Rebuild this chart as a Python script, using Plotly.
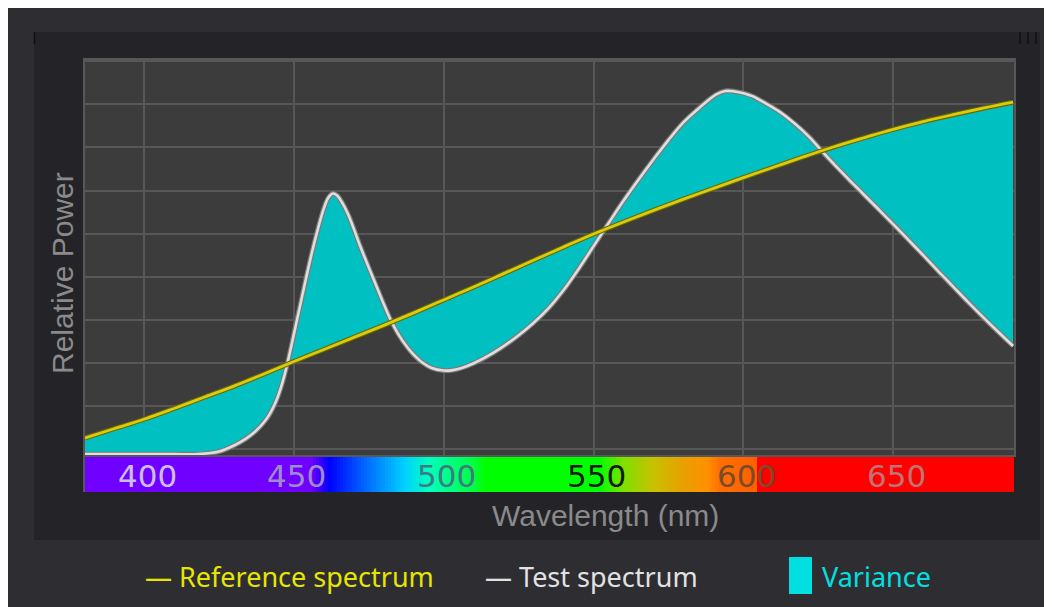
import numpy as np
import plotly.graph_objects as go

# ---------------- data ----------------
ref_nm = [380, 390, 400, 410, 420, 430, 440, 450, 460, 470, 480, 490, 500, 510, 520,
          530, 540, 550, 560, 570, 580, 590, 600, 610, 620, 630, 640, 650, 660, 670,
          680, 690]
ref_power = [0.37, 0.59, 0.81, 1.06, 1.32, 1.58, 1.86, 2.15, 2.43, 2.71, 2.99, 3.28,
             3.58, 3.88, 4.19, 4.50, 4.81, 5.11, 5.39, 5.66, 5.92, 6.17, 6.42, 6.66,
             6.90, 7.13, 7.34, 7.54, 7.72, 7.88, 8.03, 8.17]

test_nm = [380, 390, 400, 410, 418, 425, 430, 434, 437, 440, 442, 444, 446, 448, 450,
           452, 454, 456, 458, 460, 461.5, 463, 464.5, 466, 468, 470, 472, 475, 478,
           480, 482, 485, 488, 490, 493, 496, 500, 503, 506, 510, 514, 519, 525, 530,
           535, 540, 545, 550, 555, 560, 565, 570, 575, 580, 585, 588, 591, 594, 597,
           600, 603, 607, 612, 617, 622, 626, 630, 635, 640, 645, 650, 655, 660, 665,
           670, 675, 680, 685, 690]
test_power = [0, 0, 0, 0, 0, 0.06, 0.20, 0.36, 0.52, 0.74, 0.94, 1.22, 1.62, 2.15,
              2.78, 3.42, 4.06, 4.67, 5.22, 5.70, 5.95, 6.05, 6.00, 5.85, 5.58, 5.23,
              4.85, 4.33, 3.82, 3.48, 3.16, 2.77, 2.47, 2.31, 2.12, 2.00, 1.94, 1.95,
              2.00, 2.11, 2.25, 2.46, 2.76, 3.05, 3.39, 3.81, 4.30, 4.83, 5.36, 5.88,
              6.37, 6.84, 7.29, 7.70, 8.02, 8.20, 8.35, 8.43, 8.42, 8.38, 8.31, 8.16,
              7.95, 7.68, 7.36, 7.05, 6.75, 6.39, 6.04, 5.69, 5.34, 4.98, 4.62, 4.25,
              3.89, 3.53, 3.18, 2.84, 2.51]

wave_ticks = [400, 450, 500, 550, 600, 650]
wave_tick_colors = ["#cdbdff", "#9c8cc8", "#3d7c82", "#0c1a0c", "#7a4a2a", "#c27272"]

spectrum_nm = [380, 456, 462, 475, 487, 495, 510, 514, 552, 560, 570, 580, 588, 592,
               604, 605, 690]
spectrum_colors = ["#7000ff", "#7000ff", "#0000ff", "#0070ff", "#00d0ff", "#00ffc0",
                   "#00ff40", "#00ff00", "#00ff00", "#80e000", "#c8c000", "#e8a000",
                   "#ff9000", "#ff7000", "#ff6000", "#ff0000", "#ff0000"]

legend_labels = ["\u2014 Reference spectrum", "\u2014 Test spectrum", "Variance"]
legend_colors = ["#e6e600", "#e2e2e2", "#00e0e0"]

# ---------------- layout geometry (screen pixels) ----------------
OFF = 8                      # page body margin
W_PX, H_PX = 1052 - OFF, 607 - OFF
L, R, T, B = 85, 1014, 60, 492   # plot area in screen pixels
PW, PH = R - L, B - T


def px(x):
    return (x - L) / PW


def py(y):
    return (B - y) / PH


XR = [380.3, 690.3]

fig = go.Figure()

fig.add_trace(go.Scatter(x=ref_nm, y=ref_power, mode="lines",
                         line=dict(width=0, shape="spline", color="rgba(0,0,0,0)"),
                         hoverinfo="skip", showlegend=False))
fig.add_trace(go.Scatter(x=test_nm, y=test_power, mode="lines", fill="tonexty",
                         fillcolor="#00c0c2",
                         line=dict(width=0, shape="spline", color="rgba(0,0,0,0)"),
                         hoverinfo="skip", showlegend=False))
fig.add_trace(go.Scatter(x=test_nm, y=test_power, mode="lines",
                         line=dict(width=5, shape="spline", color="#7a7a7a"),
                         showlegend=False, hoverinfo="skip"))
fig.add_trace(go.Scatter(x=test_nm, y=test_power, mode="lines", name="Test spectrum",
                         line=dict(width=2.6, shape="spline", color="#dedede"),
                         showlegend=False))
fig.add_trace(go.Scatter(x=ref_nm, y=ref_power, mode="lines",
                         line=dict(width=5, shape="spline", color="#6e6600"),
                         showlegend=False, hoverinfo="skip"))
fig.add_trace(go.Scatter(x=ref_nm, y=ref_power, mode="lines", name="Reference spectrum",
                         line=dict(width=2.8, shape="spline", color="#d8cc10"),
                         showlegend=False))

lo, hi = spectrum_nm[0], spectrum_nm[-1]
cscale = [[(n - lo) / (hi - lo), c] for n, c in zip(spectrum_nm, spectrum_colors)]
bar_x = np.arange(lo, hi + 1)
fig.add_trace(go.Heatmap(x=bar_x, y=[0], z=[bar_x], colorscale=cscale, zmin=lo, zmax=hi,
                         showscale=False, hoverinfo="skip", xaxis="x2", yaxis="y2"))

shapes = []
shapes.append(dict(type="rect", xref="paper", yref="paper", layer="below",
                   x0=px(34), x1=px(1040), y0=py(540), y1=py(32),
                   fillcolor="#242428", line=dict(width=0)))
shapes.append(dict(type="rect", xref="paper", yref="paper", layer="below",
                   x0=0, x1=1, y0=py(455), y1=1, fillcolor="#3c3c3c", line=dict(width=0)))
for xx in [34.5, 1020, 1028, 1036]:
    shapes.append(dict(type="line", xref="paper", yref="paper", layer="above",
                       x0=px(xx), x1=px(xx), y0=py(44), y1=py(32),
                       line=dict(color="#101012", width=1.5)))
shapes.append(dict(type="rect", xref="paper", yref="paper", layer="above",
                   x0=px(789), x1=px(812), y0=py(594), y1=py(557),
                   fillcolor="#00e0e0", line=dict(width=0)))

ann = []
for v, c in zip(wave_ticks, wave_tick_colors):
    ann.append(dict(x=v + 1, y=0, xref="x2", yref="y2", text=str(v), showarrow=False,
                    xanchor="center", yanchor="middle",
                    font=dict(family="DejaVu Sans", size=31, color=c), yshift=-1))
ann.append(dict(x=px(62), y=py(273), xref="paper", yref="paper", text="Relative Power",
                textangle=-90, showarrow=False, xanchor="center", yanchor="middle",
                font=dict(family="Liberation Sans", size=30, color="#8a8a8a")))
ann.append(dict(x=px(605), y=py(515), xref="paper", yref="paper", text="Wavelength (nm)",
                showarrow=False, xanchor="center", yanchor="middle",
                font=dict(family="Liberation Sans", size=30, color="#8a8a8a")))
leg_x = [143, 483, 820]
for t, c, xx in zip(legend_labels, legend_colors, leg_x):
    ann.append(dict(x=px(xx), y=py(576), xref="paper", yref="paper", text=t,
                    xanchor="left", yanchor="middle", showarrow=False,
                    font=dict(family="Noto Sans", size=27, color=c)))

grid = "#575757"
fig.update_layout(
    width=W_PX, height=H_PX,
    margin=dict(l=L - OFF, r=1052 - R, t=T - OFF, b=607 - B, pad=0),
    paper_bgcolor="#2d2d32", plot_bgcolor="rgba(0,0,0,0)",
    showlegend=False,
    shapes=shapes, annotations=ann,
    xaxis=dict(range=XR, tickvals=wave_ticks, showticklabels=False, showgrid=True,
               gridcolor=grid, gridwidth=2, zeroline=False, showline=True, mirror=True,
               linecolor=grid, linewidth=2, ticks="", anchor="y"),
    yaxis=dict(range=[-0.02, 9.15], tick0=0.12, dtick=1, showticklabels=False,
               showgrid=True, gridcolor=grid, gridwidth=2, zeroline=False,
               showline=True, mirror=True, linecolor=grid, linewidth=2, ticks="",
               domain=[py(455), 1], anchor="x"),
    xaxis2=dict(range=XR, showticklabels=False, showgrid=False, zeroline=False,
                showline=False, ticks="", anchor="y2"),
    yaxis2=dict(range=[-0.5, 0.5], showticklabels=False, showgrid=False, zeroline=False,
                showline=True, linecolor=grid, linewidth=2, ticks="",
                domain=[0, py(457)], anchor="x2"),
)

fig.write_html("out.html")
